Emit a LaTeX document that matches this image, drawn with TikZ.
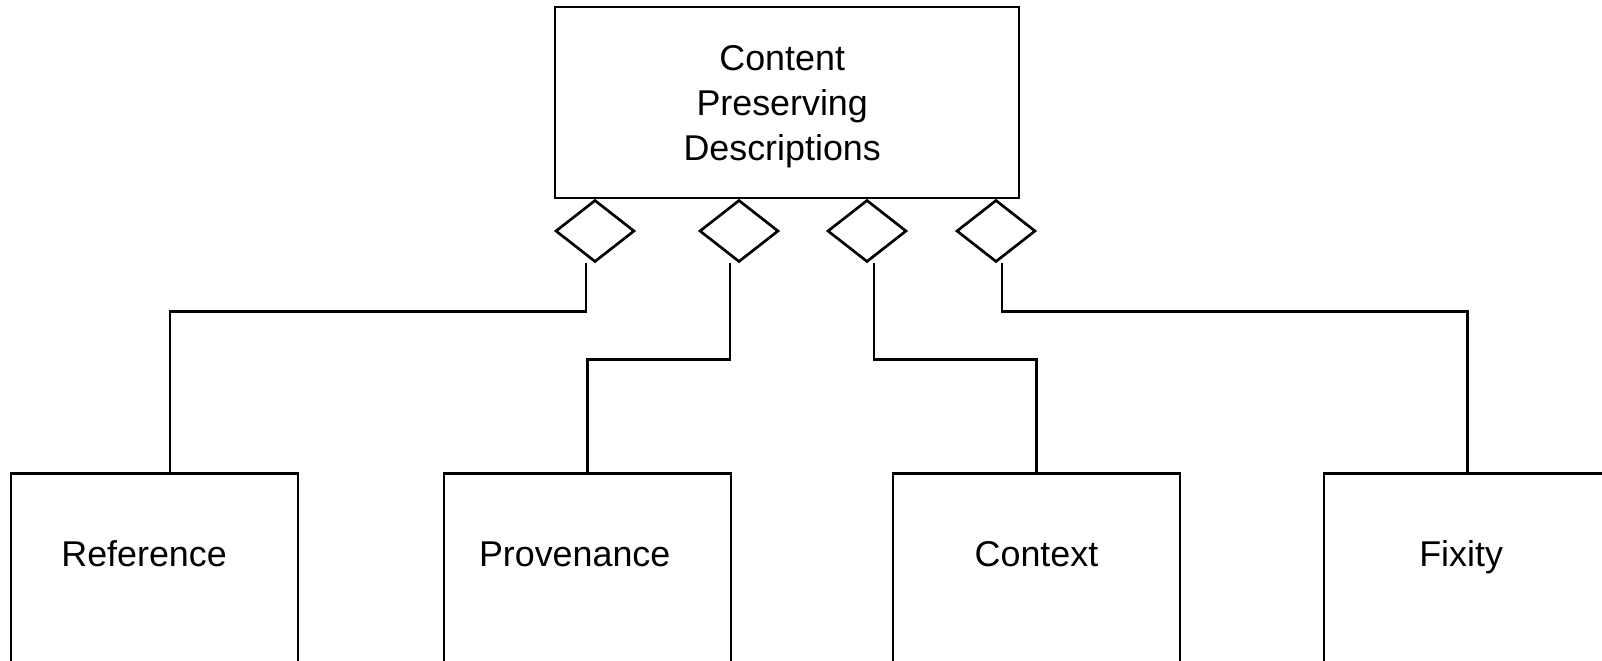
\documentclass[tikz,border=0pt]{standalone}
\usepackage{fontspec}
\setmainfont{Liberation Sans}
\usetikzlibrary{shapes.geometric}

\begin{document}
\begin{tikzpicture}[line width=1.9pt,
    box/.style={draw, rectangle, minimum width=7.175cm, minimum height=6cm, anchor=north},
    diam/.style={draw, diamond, minimum width=1.975cm, minimum height=1.55cm, inner sep=0pt},
    lbl/.style={font=\fontsize{25.5}{32}\selectfont, anchor=base}]

  \useasboundingbox (0,0) rectangle (40.05,16.5);
  \clip (0,0) rectangle (40.05,16.5);

  % whole
  \node[draw, minimum width=11.6cm, minimum height=4.775cm] (cpd) at (19.675,13.9375) {};
  \node[align=center, font=\fontsize{25.5}{32}\selectfont] (cpdlbl)
        at ([xshift=-0.12cm, yshift=-0.11cm]cpd.center) {Content\\Preserving\\Descriptions};

  % aggregation diamonds
  \node[diam] (d1) at (14.875,10.725) {};
  \node[diam] (d2) at (18.475,10.725) {};
  \node[diam] (d3) at (21.675,10.725) {};
  \node[diam] (d4) at (24.9,10.725) {};

  % parts
  \node[box] (ref) at (3.8625,4.7) {};
  \node[box] (prov) at (14.6875,4.7) {};
  \node[box] (ctx) at (25.9125,4.7) {};
  \node[box] (fix) at (36.6875,4.7) {};

  \node[lbl] (reflbl) at ([xshift=-0.26cm, yshift=-2.37cm]ref.north) {Reference};
  \node[lbl] (provlbl) at ([xshift=-0.32cm, yshift=-2.37cm]prov.north) {Provenance};
  \node[lbl] (ctxlbl) at ([yshift=-2.37cm]ctx.north) {Context};
  \node[lbl] (fixlbl) at ([xshift=-0.16cm, yshift=-2.37cm]fix.north) {Fixity};

  % connectors
  \draw ([xshift=-0.225cm]d1.south) -- ++(0,-1.2) -| ([xshift=0.3875cm]ref.north);
  \draw ([xshift=-0.225cm]d2.south) -- ++(0,-2.4) -| (prov.north);
  \draw ([xshift=0.175cm]d3.south) -- ++(0,-2.4) -| (ctx.north);
  \draw ([xshift=0.15cm]d4.south) -- ++(0,-1.2) -| (fix.north);

\end{tikzpicture}
\end{document}
